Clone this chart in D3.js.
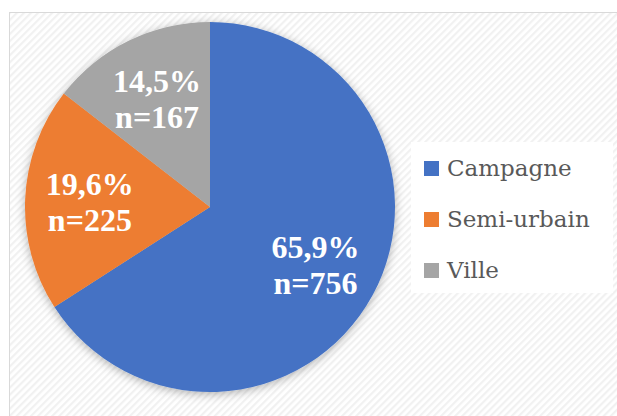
<!DOCTYPE html>
<html>
<head>
<meta charset="utf-8">
<title>Pie</title>
<style>
  body { margin: 0; background: #fff; }
  svg { display: block; }
</style>
</head>
<body>
<div class="chart-container"></div>
<script src="https://cdn.jsdelivr.net/npm/d3@7/dist/d3.min.js"></script>
<script>
    var categories = ['Campagne', 'Semi-urbain', 'Ville'];
    var percents = [65.9, 19.6, 14.5];
    var counts = [756, 225, 167];
    var colors = ['#4472C4', '#ED7D31', '#A5A5A5'];

    var width = 617, height = 416;
    var cx = 210, cy = 207, radius = 185;

    var data = categories.map(function (c, i) {
        return {name: c, pct: percents[i], n: counts[i], color: colors[i]};
    });

    var svg = d3.select('.chart-container').append('svg')
            .attr('width', width)
            .attr('height', height);

    var defs = svg.append('defs');

    // diagonal hatch like the Excel chart area
    var pat = defs.append('pattern')
            .attr('id', 'hatch')
            .attr('patternUnits', 'userSpaceOnUse')
            .attr('width', 5)
            .attr('height', 5)
            .attr('patternTransform', 'rotate(-45)');
    pat.append('rect').attr('width', 5).attr('height', 5).attr('fill', '#ffffff');
    pat.append('rect').attr('width', 5).attr('height', 2.2).attr('fill', '#f1f1f1');

    var shadow = defs.append('filter')
            .attr('id', 'shadow')
            .attr('x', '-20%').attr('y', '-20%')
            .attr('width', '140%').attr('height', '140%');
    shadow.append('feDropShadow')
            .attr('dx', 0).attr('dy', 2)
            .attr('stdDeviation', 5)
            .attr('flood-color', '#000')
            .attr('flood-opacity', 0.3);

    // chart area
    svg.append('rect')
            .attr('x', 9.5).attr('y', 12.5)
            .attr('width', width).attr('height', height)
            .attr('fill', 'url(#hatch)')
            .attr('stroke', '#d9d9d9');

    var pie = d3.pie()
            .sort(null)
            .value(function (d) { return d.pct; });

    var arc = d3.arc().innerRadius(0).outerRadius(radius);
    var labelArc = d3.arc().innerRadius(radius * 0.65).outerRadius(radius * 0.65);

    var g = svg.append('g')
            .attr('transform', 'translate(' + cx + ',' + cy + ')');

    g.append('g')
            .attr('filter', 'url(#shadow)')
            .selectAll('path')
            .data(pie(data))
            .enter()
            .append('path')
            .attr('d', arc)
            .attr('fill', function (d) { return d.data.color; });

    var labels = g.selectAll('text.lbl')
            .data(pie(data))
            .enter()
            .append('text')
            .attr('class', 'lbl')
            .attr('text-anchor', 'middle')
            .style('font-family', '"Liberation Serif", "DejaVu Serif", serif')
            .style('font-weight', 'bold')
            .style('font-size', '32px')
            .attr('fill', '#fff')
            .attr('transform', function (d) {
                var c = labelArc.centroid(d);
                return 'translate(' + c[0] + ',' + c[1] + ')';
            });

    labels.append('tspan')
            .attr('x', 0)
            .attr('y', -7)
            .text(function (d) { return String(d.data.pct).replace('.', ',') + '%'; });
    labels.append('tspan')
            .attr('x', 0)
            .attr('y', 29)
            .text(function (d) { return 'n=' + d.data.n; });

    // legend
    var legend = svg.append('g');
    legend.append('rect')
            .attr('x', 411).attr('y', 142)
            .attr('width', 202).attr('height', 151)
            .attr('fill', '#fff');

    var item = legend.selectAll('g.item')
            .data(data)
            .enter()
            .append('g')
            .attr('class', 'item')
            .attr('transform', function (d, i) { return 'translate(424,' + (176 + i * 51) + ')'; });

    item.append('rect')
            .attr('x', 0).attr('y', -15)
            .attr('width', 15).attr('height', 15)
            .attr('fill', function (d) { return d.color; });

    item.append('text')
            .attr('x', 23)
            .attr('y', 0)
            .style('font-family', '"DejaVu Serif", "Liberation Serif", serif')
            .style('font-size', '23px')
            .attr('fill', '#595959')
            .text(function (d) { return d.name; });
</script>
</body>
</html>
